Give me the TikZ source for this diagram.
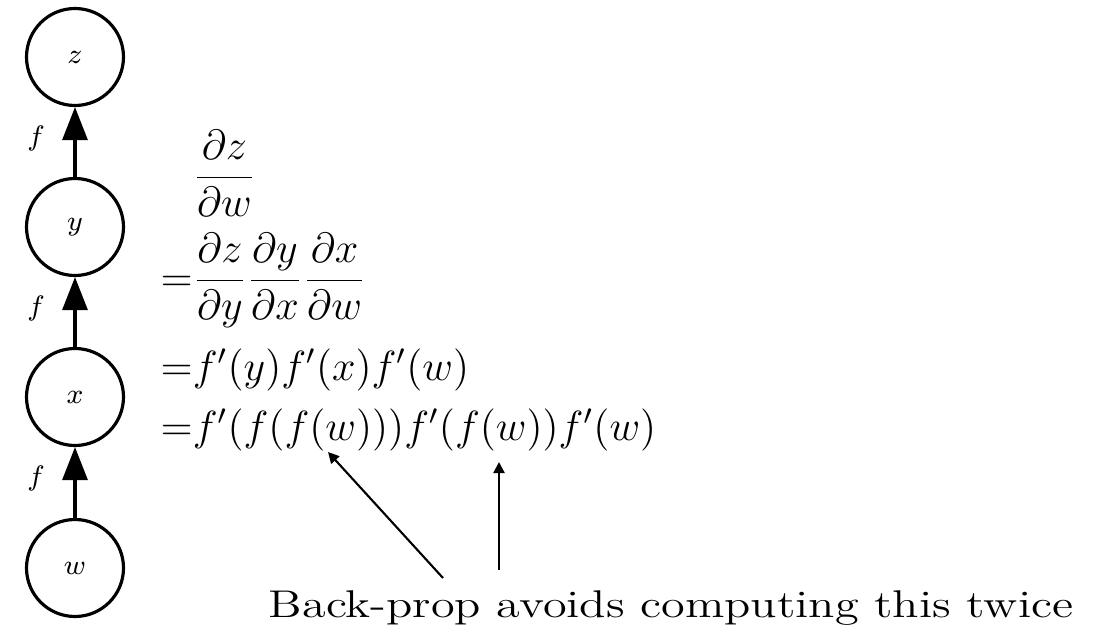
\documentclass[tikz,border=0pt]{standalone}
\usepackage{amsmath}
\usetikzlibrary{arrows.meta}

\begin{document}
\begin{tikzpicture}[
      var/.style={draw,circle,line width=0.9pt,minimum size=0.97cm,
                  inner sep=0pt,font=\footnotesize},
      flow/.style={-{Triangle[length=3.3mm,width=2.5mm]},line width=0.9pt},
      fn/.style={left=0.17cm,pos=0.55,font=\footnotesize},
      eq/.style={anchor=base west,inner sep=0pt,font=\fontsize{12}{14}\selectfont},
      note/.style={anchor=base west,inner sep=0pt,font=\fontsize{11}{13}\selectfont},
      pointer/.style={-{Triangle[length=1.1mm,width=1.1mm]},semithick}]
    \useasboundingbox (0,0) rectangle (11.04,6.35);
    \node[var] (w) at (0.75,0.67) {$w$};
    \node[var] (x) at (0.75,2.38) {$x$};
    \node[var] (y) at (0.75,4.08) {$y$};
    \node[var] (z) at (0.75,5.78) {$z$};
    \foreach \a/\b in {w/x,x/y,y/z} \draw[flow] (\a) -- node[fn] {$f$} (\b);
    % chain rule, one line per node
    \node[eq] (e1) at (1.60,4.47) {$\displaystyle\phantom{{=}}\frac{\partial z}{\partial w}$};
    \node[eq] (e2) at (1.60,3.44) {$\displaystyle{=}\frac{\partial z}{\partial y}\frac{\partial y}{\partial x}\frac{\partial x}{\partial w}$};
    \node[eq] (e3) at (1.60,2.55) {${=}f'(y)f'(x)f'(w)$};
    \node[eq] (e4) at (1.60,1.95) {${=}f'(f(f(w)))f'(f(w))f'(w)$};
    \node[note,xscale=1.25,transform shape] (note) at (2.68,0.18) {Back-prop avoids computing this twice};
    \coordinate (dupA) at (3.28,1.83);
    \coordinate (dupB) at (4.99,1.73);
    \coordinate (fromA) at (4.43,0.57);
    \coordinate (fromB) at (4.99,0.65);
    \draw[pointer] (fromA) -- (dupA);
    \draw[pointer] (fromB) -- (dupB);
  \end{tikzpicture}
\end{document}
